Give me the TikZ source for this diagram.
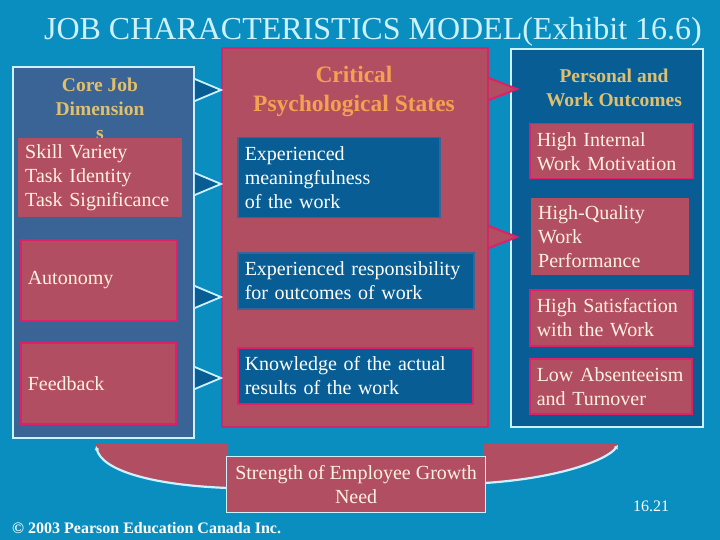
\documentclass[tikz,border=0pt]{standalone}
\usepackage{fontspec}
\setmainfont{Liberation Serif}
\usetikzlibrary{arrows.meta,calc}
\definecolor{bg}{RGB}{10,142,192}
\definecolor{steel}{RGB}{58,100,150}
\definecolor{rose}{RGB}{178,78,98}
\definecolor{pinkb}{RGB}{222,32,104}
\definecolor{pinkc}{RGB}{205,40,105}
\definecolor{dblue}{RGB}{8,94,148}
\definecolor{lcyan}{RGB}{205,242,255}
\definecolor{gold}{RGB}{224,192,110}
\definecolor{orng}{RGB}{242,162,80}
\definecolor{cream}{RGB}{255,242,222}
\begin{document}
\begin{tikzpicture}[x=1pt,y=-1pt,
  panel/.style={draw=lcyan, line width=1.8pt, anchor=north west, inner sep=0pt},
  tbox/.style={anchor=north west, inner xsep=7pt, inner ysep=0pt, align=left,
    font=\fontsize{20}{24}\selectfont},
  rosebox/.style={tbox, fill=rose, text=cream},
  rosepink/.style={rosebox, draw=pinkb, line width=1.5pt},
  bluebox/.style={tbox, fill=dblue, text=white, draw=steel, line width=1.5pt},
  goldtitle/.style={align=center, text=gold, font=\bfseries\fontsize{19.5}{24}\selectfont},
  curveline/.style={draw=lcyan, line width=2.2pt, -{Latex[length=4pt,width=5pt]}},
  plain/.style={text=lcyan, inner sep=0pt}]
\fill[bg] (0,0) rectangle (720,540);
\useasboundingbox (0,0) rectangle (720,540);

% title
\node[plain, anchor=base, font=\fontsize{32}{36}\selectfont] (title) at (373,40) {JOB CHARACTERISTICS MODEL(Exhibit 16.6)};

% bottom swooshes
\fill[rose] (96,444) -- (228,444) -- (228,488) .. controls (150,485) and (102,470) .. (96,446) -- cycle;
\draw[curveline] (228,488) .. controls (150,485) and (102,470) .. (96,446);
\fill[rose] (483,444) -- (618,444) .. controls (607,460) and (560,478) .. (483,483) -- cycle;
\draw[curveline] (485,483) .. controls (560,478) and (607,460) .. (618,445);

\node[anchor=north west, fill=rose, draw=lcyan, line width=1.2pt, minimum width=259pt, minimum height=56pt,
  inner sep=0pt, align=center, text=cream,
  font=\fontsize{20}{24}\selectfont] (grow) at (226,456) {Strength of Employee Growth\\Need};

% panels
\node[panel, fill=steel, minimum width=181pt, minimum height=371pt] (leftp) at (12,66) {};
\node[panel, fill=rose, draw=pinkc, minimum width=266pt, minimum height=379pt] (centp) at (221,47) {};
\node[panel, fill=dblue, minimum width=192pt, minimum height=378pt] (rightp) at (510,48) {};

% left column
\node[goldtitle] (corej) at (100,109) {Core Job\\Dimension\\s};
\node[rosebox, minimum width=164pt, minimum height=79pt, text width=150pt] (skill) at (18,138)
  {Skill Variety\\Task Identity\\Task Significance};
\node[rosepink, minimum width=156pt, minimum height=81pt, text width=142pt] (auto) at (20,239) {Autonomy};
\node[rosepink, minimum width=155pt, minimum height=81pt, text width=141pt] (feed) at (20,342) {Feedback};

% centre column
\node[align=center, text=orng, font=\bfseries\fontsize{23.5}{29}\selectfont] (crit) at (354,91.5)
  {Critical\\Psychological States};
\node[bluebox, minimum width=202pt, minimum height=80pt, text width=188pt] (emean) at (237,137)
  {Experienced\\meaningfulness\\of the work};
\node[bluebox, minimum width=236pt, minimum height=56pt, text width=222pt] (eresp) at (237,252)
  {Experienced responsibility\\for outcomes of work};
\node[bluebox, draw=pinkb, minimum width=235pt, minimum height=56pt, text width=221pt] (know) at (237,347)
  {Knowledge of the actual\\results of the work};

% right column
\node[goldtitle] (pwo) at (614,88) {Personal and\\Work Outcomes};
\node[rosepink, minimum width=163pt, minimum height=55pt, text width=149pt] (motiv) at (529,123)
  {High Internal\\Work Motivation};
\node[rosebox, minimum width=158pt, minimum height=77pt, text width=144pt] (qual) at (531,198)
  {High-Quality\\Work\\Performance};
\node[rosepink, minimum width=163pt, minimum height=56pt, text width=149pt] (satis) at (529,289)
  {High Satisfaction\\with the Work};
\node[rosepink, minimum width=162pt, minimum height=55pt, text width=148pt] (absent) at (529,358)
  {Low Absenteeism\\and Turnover};

% arrows left -> centre
\foreach \y in {90,184,297,378}{
  \coordinate (la) at ($(leftp.north east)+(0,\y-77)$);
  \coordinate (lt) at ($(centp.north west)+(0,\y-47)$);
  \coordinate (lb) at ($(leftp.north east)+(0,\y-55)$);
  \fill[dblue] (la) -- (lt) -- (lb) -- cycle;
  \draw[lcyan, line width=1.8pt] (la) -- (lt) -- (lb);
}
% arrows centre -> right
\foreach \y in {89,237}{
  \coordinate (ra) at ($(centp.north east)+(0,\y-58)$);
  \coordinate (rt) at ($(rightp.north west)+(7,\y-48)$);
  \coordinate (rb) at ($(centp.north east)+(0,\y-36)$);
  \fill[rose] (ra) -- (rt) -- (rb) -- cycle;
  \draw[pinkb, line width=2pt] (ra) -- (rt) -- (rb);
}

% footer
\node[plain, text=white, anchor=base west, font=\bfseries\fontsize{16}{18}\selectfont] (copy) at (12,533)
  {© 2003 Pearson Education Canada Inc.};
\node[plain, text=white, anchor=base west, font=\fontsize{16}{18}\selectfont] (pageno) at (633,511) {16.21};
\end{tikzpicture}
\end{document}
